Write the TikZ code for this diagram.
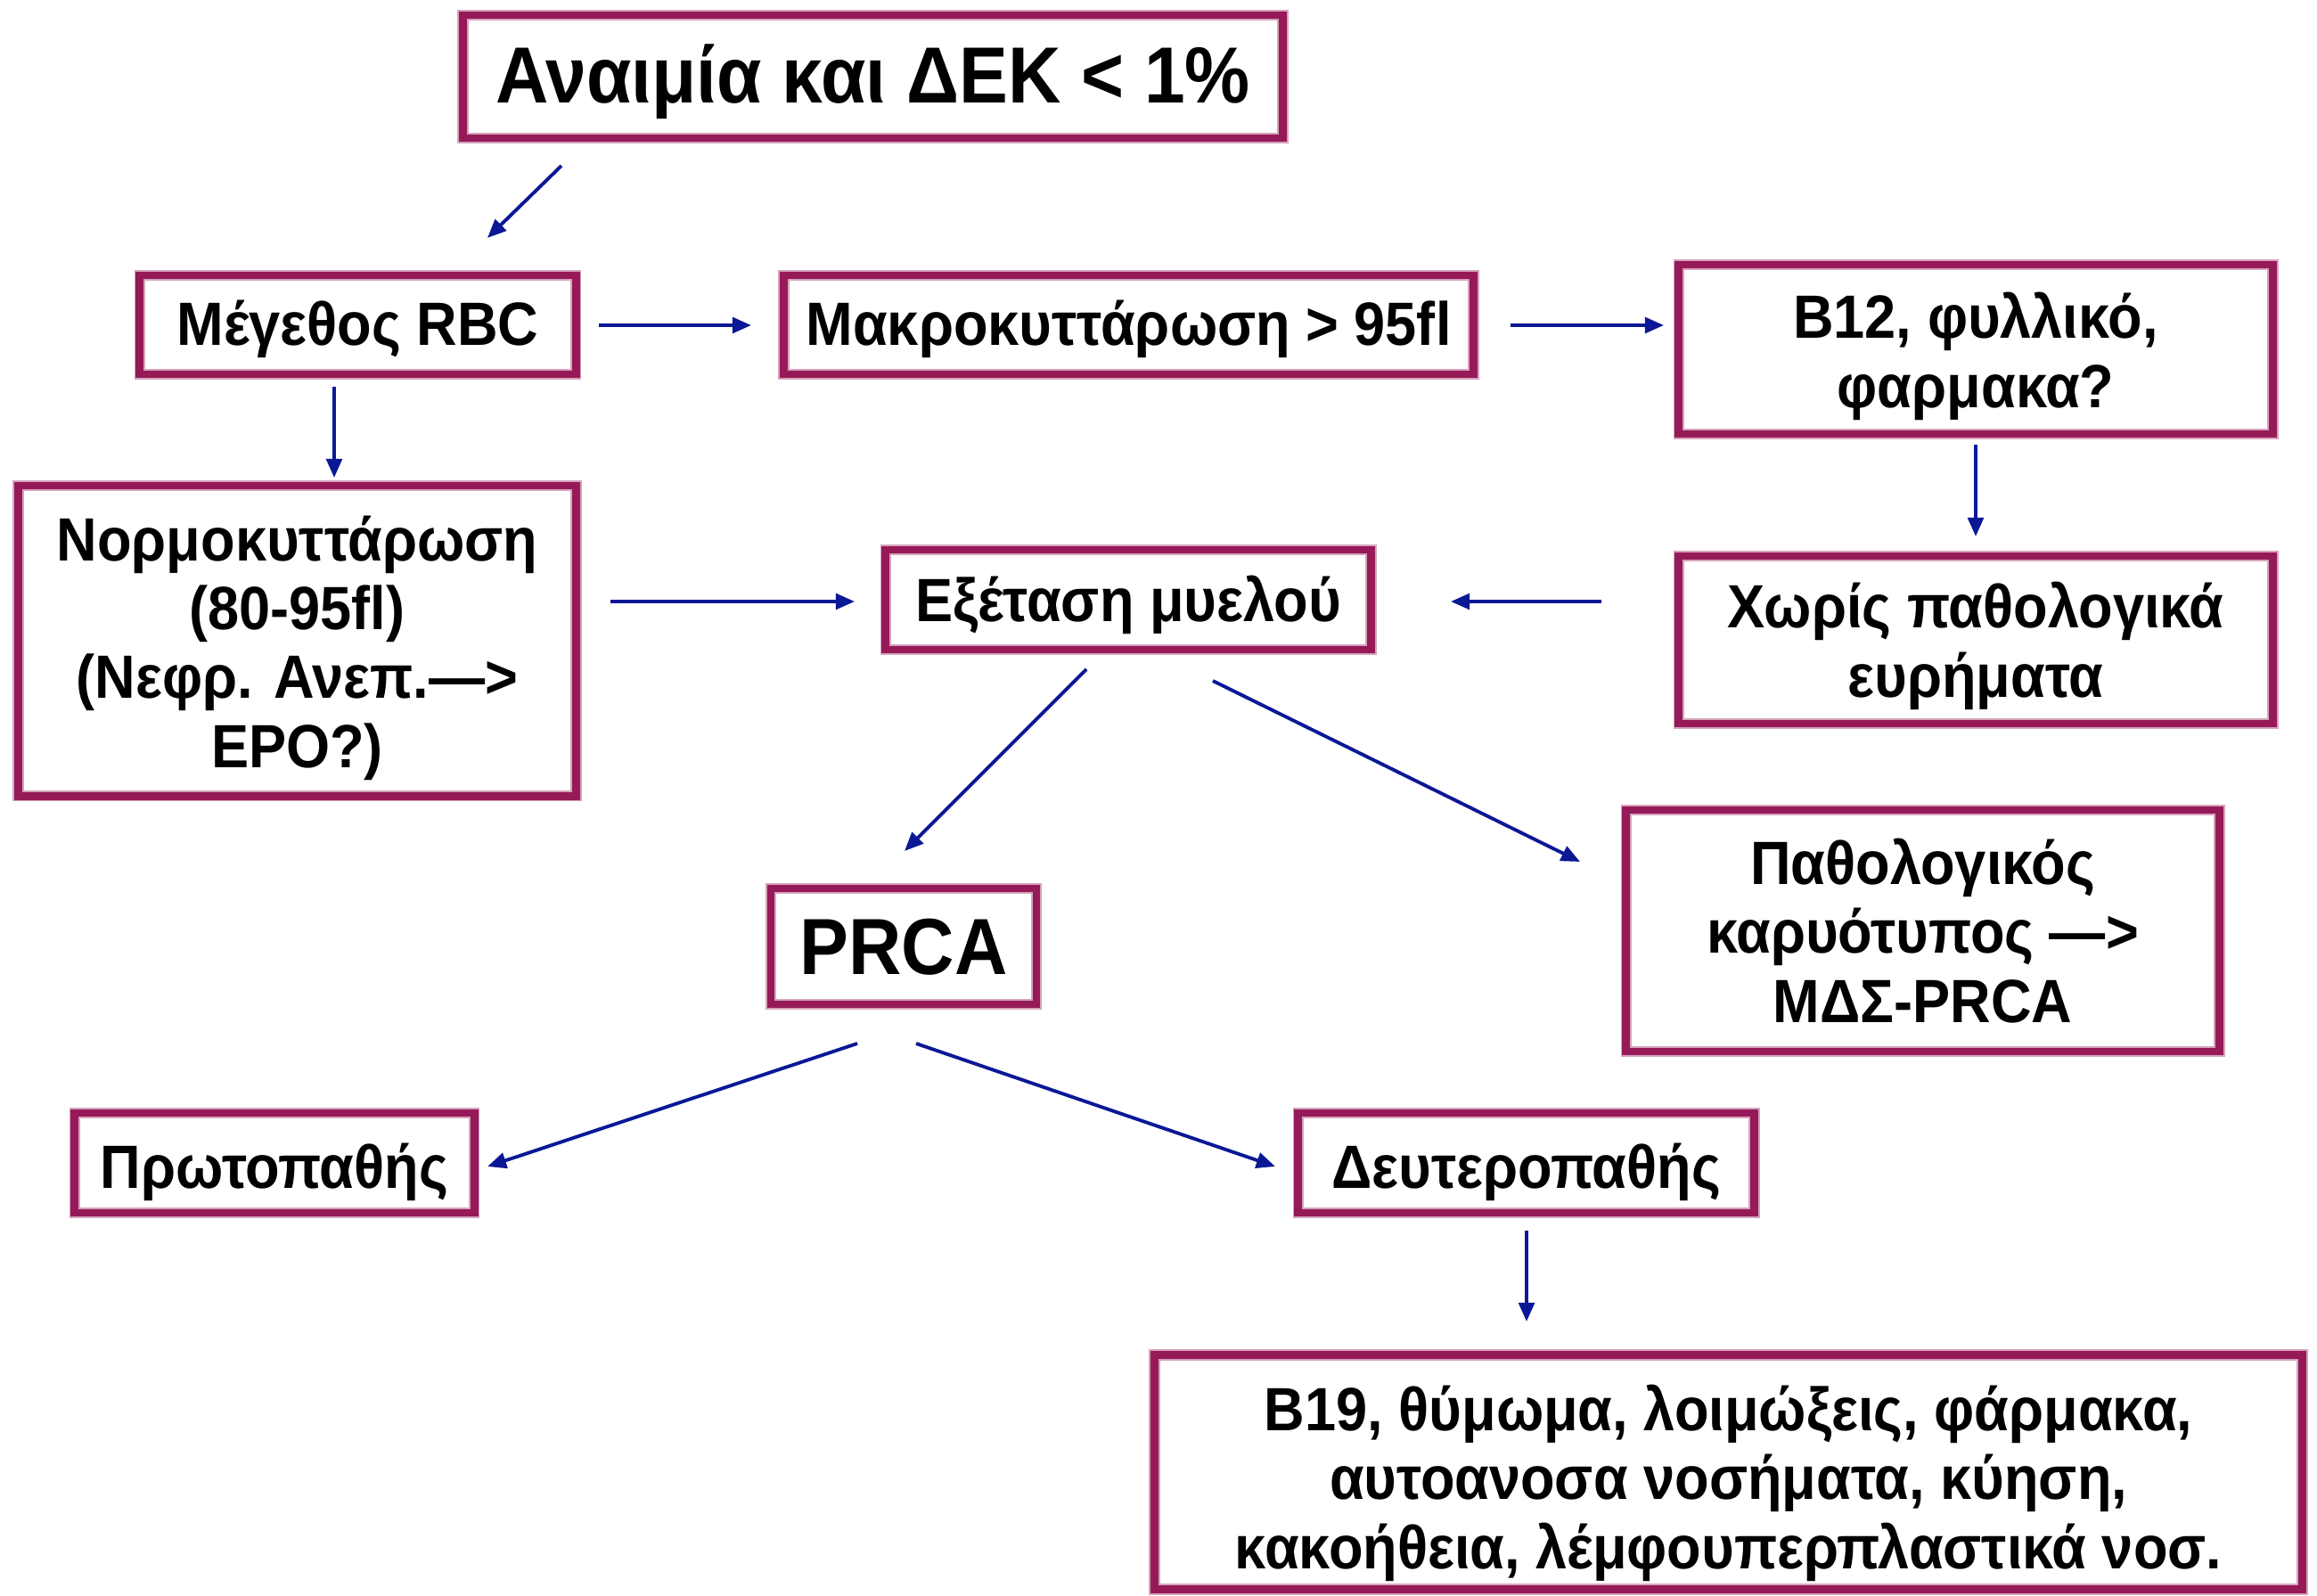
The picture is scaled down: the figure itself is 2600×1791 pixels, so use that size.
\documentclass[tikz,border=0pt]{standalone}
\usepackage{fontspec}
\setmainfont{Liberation Sans}[FakeStretch=0.92]
\usetikzlibrary{arrows.meta}
\definecolor{frame}{RGB}{150,26,88}
\definecolor{arrblue}{RGB}{10,24,150}
\tikzset{
  box/.style={draw=frame, line width=2.5pt, rectangle, inner sep=0pt,
              preaction={draw=frame!40, line width=3.6pt}},
  txt/.style={inner sep=0pt, align=center, text=black,
              font=\fontsize{19.5}{22}\selectfont\bfseries},
  bigtxt/.style={txt, font=\fontsize{25.4}{28}\selectfont\bfseries},
  arr/.style={draw=arrblue, line width=1.1pt, -{Triangle[length=6pt,width=5pt]}}
}
\begin{document}
\begin{tikzpicture}[x=0.01cm,y=-0.01cm]
\useasboundingbox (0,0) rectangle (2600,1791);
% boxes
\node[box, minimum width=9.19cm, minimum height=1.38cm] (A) at (979.5,86) {};
\node[box, minimum width=4.89cm, minimum height=1.11cm] (B) at (401.5,364.5) {};
\node[box, minimum width=7.73cm, minimum height=1.11cm] (C) at (1266.5,364.5) {};
\node[box, minimum width=6.66cm, minimum height=1.90cm] (D) at (2217,392) {};
\node[box, minimum width=6.25cm, minimum height=3.48cm] (E) at (333.5,719) {};
\node[box, minimum width=5.44cm, minimum height=1.12cm] (F) at (1266,673) {};
\node[box, minimum width=6.66cm, minimum height=1.88cm] (G) at (2217,718) {};
\node[box, minimum width=2.98cm, minimum height=1.30cm] (H) at (1014,1062) {};
\node[box, minimum width=6.65cm, minimum height=2.71cm] (I) at (2157.5,1044.5) {};
\node[box, minimum width=4.48cm, minimum height=1.12cm] (J) at (308,1305) {};
\node[box, minimum width=5.11cm, minimum height=1.12cm] (K) at (1712.5,1305) {};
\node[box, minimum width=12.87cm, minimum height=2.63cm] (L) at (1939.5,1652) {};
% texts
\node[bigtxt] (At) at ([yshift=-0.06cm]A.center) {Αναιμία και ΔΕΚ < 1\%};
\node[txt] (Bt) at ([yshift=-0.05cm]B.center) {Μέγεθος RBC};
\node[txt] (Ct) at ([yshift=-0.05cm]C.center) {Μακροκυττάρωση > 95fl};
\node[txt] (Dt) at ([yshift=-0.08cm]D.center) {B12, φυλλικό,\\φαρμακα?};
\node[txt] (Et) at ([yshift=-0.08cm]E.center) {Νορμοκυττάρωση\\(80-95fl)\\(Νεφρ. Ανεπ.—>\\EPO?)};
\node[txt] (Ft) at ([yshift=-0.06cm]F.center) {Εξέταση μυελού};
\node[txt] (Gt) at ([yshift=-0.07cm]G.center) {Χωρίς παθολογικά\\ευρήματα};
\node[bigtxt] (Ht) at ([yshift=-0.01cm]H.center) {PRCA};
\node[txt] (It) at (I.center) {Παθολογικός\\καρυότυπος —>\\ΜΔΣ-PRCA};
\node[txt] (Jt) at ([yshift=-0.10cm]J.center) {Πρωτοπαθής};
\node[txt] (Kt) at ([yshift=-0.10cm]K.center) {Δευτεροπαθής};
\node[txt] (Lt) at ([yshift=-0.12cm]L.center) {B19, θύμωμα, λοιμώξεις, φάρμακα,\\αυτοανοσα νοσήματα, κύηση,\\κακοήθεια, λέμφουπερπλαστικά νοσ.};
% connector end points
\coordinate (ab1) at (630,186);  \coordinate (ab2) at (547,267);
\coordinate (bc1) at (672,365);  \coordinate (bc2) at (843,365);
\coordinate (cd1) at (1695,365); \coordinate (cd2) at (1867,365);
\coordinate (be1) at (375,434);  \coordinate (be2) at (375,536);
\coordinate (dg1) at (2217,499); \coordinate (dg2) at (2217,602);
\coordinate (ef1) at (685,675);  \coordinate (ef2) at (959,675);
\coordinate (gf1) at (1797,675); \coordinate (gf2) at (1628,675);
\coordinate (fh1) at (1219,751); \coordinate (fh2) at (1015,955);
\coordinate (fi1) at (1361,764); \coordinate (fi2) at (1773,967);
\coordinate (hj1) at (962,1171); \coordinate (hj2) at (547,1309);
\coordinate (hk1) at (1028,1171);\coordinate (hk2) at (1431,1309);
\coordinate (kl1) at (1713,1381);\coordinate (kl2) at (1713,1483);
% connectors
\draw[arr] (ab1) -- (ab2);
\draw[arr] (bc1) -- (bc2);
\draw[arr] (cd1) -- (cd2);
\draw[arr] (be1) -- (be2);
\draw[arr] (dg1) -- (dg2);
\draw[arr] (ef1) -- (ef2);
\draw[arr] (gf1) -- (gf2);
\draw[arr] (fh1) -- (fh2);
\draw[arr] (fi1) -- (fi2);
\draw[arr] (hj1) -- (hj2);
\draw[arr] (hk1) -- (hk2);
\draw[arr] (kl1) -- (kl2);
\end{tikzpicture}
\end{document}
